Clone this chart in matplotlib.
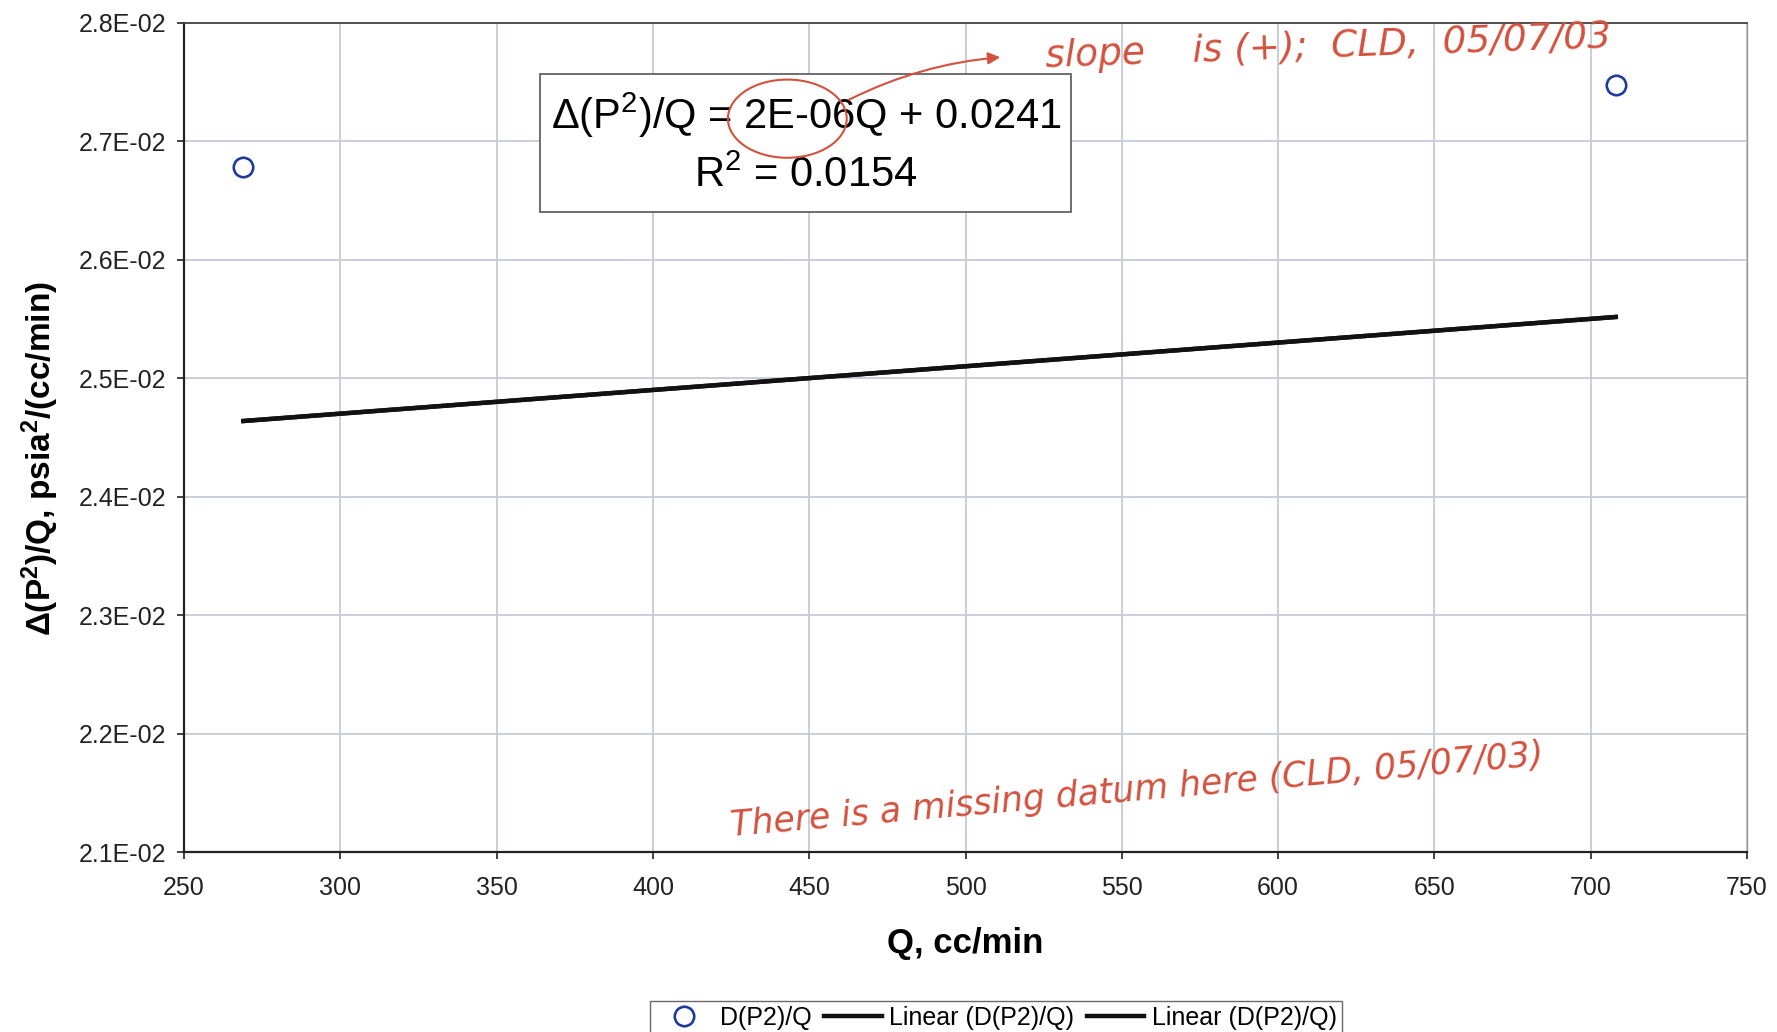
import matplotlib
matplotlib.use("Agg")
import matplotlib.pyplot as plt
from matplotlib import font_manager
from matplotlib.patches import Ellipse, Rectangle, FancyArrowPatch
from matplotlib.ticker import MultipleLocator, FuncFormatter

# Data
q_points = [269, 708]
dp2_over_q = [0.02678, 0.02747]
trend_slope = 2e-06
trend_intercept = 0.0241
r_squared = 0.0154
trend_x = [269, 708]

available = {f.name for f in font_manager.fontManager.ttflist}
base_font = "Liberation Sans" if "Liberation Sans" in available else "DejaVu Sans"
narrow_font = "Liberation Sans Narrow" if "Liberation Sans Narrow" in available else base_font

plt.rcParams["font.family"] = [base_font, "DejaVu Sans"]
plt.rcParams["mathtext.fontset"] = "custom"
plt.rcParams["mathtext.rm"] = narrow_font
plt.rcParams["mathtext.default"] = "regular"

fig = plt.figure(figsize=(17.77, 10.32), dpi=100)
ax = fig.add_axes([184 / 1777, 1 - 852 / 1032, (1747 - 184) / 1777, (852 - 22.7) / 1032])

grid_color = "#c6cad6"
ax.set_xlim(250, 750)
ax.set_ylim(0.021, 0.028)
ax.xaxis.set_major_locator(MultipleLocator(50))
ax.yaxis.set_major_locator(MultipleLocator(0.001))
ax.yaxis.set_major_formatter(FuncFormatter(lambda v, p: f"{v:.1E}"))
ax.grid(True, color=grid_color, linewidth=1.3)
ax.set_axisbelow(True)

ax.tick_params(axis="both", direction="out", length=5, width=1.2, colors="#222222", labelsize=18)
ax.tick_params(axis="x", pad=12)
ax.tick_params(axis="y", pad=8)
for side in ["left", "bottom"]:
    ax.spines[side].set_linewidth(1.6)
    ax.spines[side].set_color("#222222")
ax.spines["top"].set_linewidth(1.3)
ax.spines["top"].set_color("#444444")
ax.spines["right"].set_linewidth(1.0)
ax.spines["right"].set_color("#999999")

# Observed points
ax.plot(q_points, dp2_over_q, linestyle="none", marker="o", markersize=14,
        markerfacecolor="none", markeredgecolor="#1f3b9a", markeredgewidth=1.9,
        label="D(P2)/Q", zorder=4)

# Linear trendlines (two identical series)
trend_y = [trend_slope * x + trend_intercept for x in trend_x]
ax.plot(trend_x, trend_y, color="#111111", linewidth=3.2, label="Linear (D(P2)/Q)", zorder=3)
ax.plot(trend_x, trend_y, color="#111111", linewidth=3.2, label="Linear (D(P2)/Q)", zorder=3)

# Axis labels
ax.set_xlabel("Q, cc/min", fontsize=25, fontweight="bold", family=[narrow_font, "DejaVu Sans"], labelpad=20)
ax.set_ylabel(r"$\Delta$(P$^{2}$)/Q, psia$^{2}$/(cc/min)", fontsize=24, fontweight="bold",
              family=[narrow_font, "DejaVu Sans"])
ax.yaxis.set_label_coords(-0.079, 0.475)

# Trendline equation box
ax.add_patch(Rectangle((0.228, 0.772), 0.3395, 0.166, transform=ax.transAxes,
                       facecolor="white", edgecolor="#555555", linewidth=1.2, zorder=5))
ax.text(0.398, 0.888, r"$\Delta$(P$^{2}$)/Q = %gE-06Q + %.4f" % (trend_slope * 1e6, trend_intercept),
        transform=ax.transAxes, ha="center", va="center", fontsize=30,
        family=[narrow_font, "DejaVu Sans"], zorder=6)
ax.text(0.398, 0.8155, r"R$^{2}$ = %.4f" % r_squared,
        transform=ax.transAxes, ha="center", va="center", fontsize=30,
        family=[narrow_font, "DejaVu Sans"], zorder=6)

# Handwritten red notes
ink = "#d2523e"
ax.add_patch(Ellipse((443, 0.02719), 38, 0.00066, angle=0, facecolor="none",
                     edgecolor=ink, linewidth=1.5, zorder=7))
ax.add_patch(FancyArrowPatch((462, 0.02734), (512, 0.02771), arrowstyle="-|>",
                             mutation_scale=18, color=ink, linewidth=1.5,
                             connectionstyle="arc3,rad=-0.1", zorder=7))
ax.text(616, 0.02779, "slope    is (+);  CLD,  05/07/03", color=ink, fontsize=27,
        style="italic", family="DejaVu Sans", ha="center", va="center", rotation=2, zorder=7)
ax.text(555, 0.02152, "There is a missing datum here (CLD, 05/07/03)", color=ink, fontsize=25,
        style="italic", family="DejaVu Sans", ha="center", va="center", rotation=5, zorder=7)

# Legend along the bottom edge
leg = fig.legend(loc="upper center", bbox_to_anchor=(996 / 1777, 1 - 988 / 1032), ncol=3,
                 frameon=True, handlelength=2.3, handletextpad=0.3,
                 columnspacing=0.5, borderpad=0.2, fancybox=False,
                 prop={"family": [narrow_font, "DejaVu Sans"], "size": 18})
leg.get_frame().set_edgecolor("#444444")
leg.get_frame().set_linewidth(1.0)

fig.savefig("out.png", dpi=100, facecolor="white")
